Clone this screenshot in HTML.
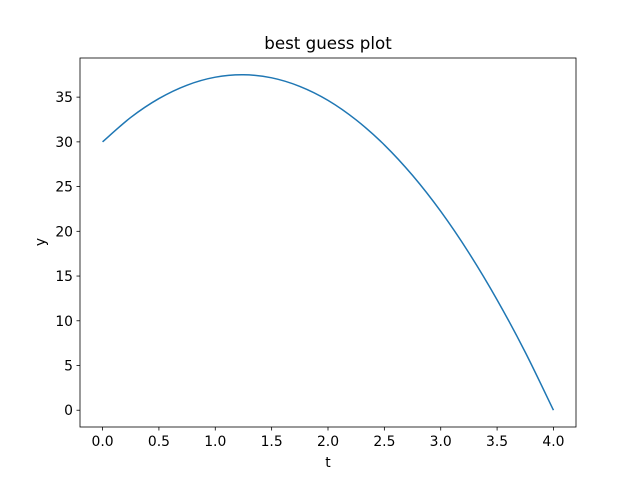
<!DOCTYPE html>
<html><head><meta charset="utf-8"><style>
body{margin:0;background:#fff}
svg text{font-family:"DejaVu Sans","Liberation Sans",sans-serif;fill:#000}
</style></head><body>
<svg id="chart" width="640" height="480">
<rect width="640" height="480" fill="#fff"/>
<text x="328" y="49" font-size="16.7" text-anchor="middle">best guess plot</text>
<g id="xt"></g>
<g id="yt"></g>
<path id="line" fill="none" stroke="#1f77b4" stroke-width="1.5"/>
<rect x="80" y="58" width="496" height="369" fill="none" stroke="#000" stroke-width="0.8"/>
<text x="328" y="467" font-size="13.9" text-anchor="middle">t</text>
<text x="0" y="0" font-size="13.9" text-anchor="middle" transform="translate(45,242) rotate(-90)">y</text>
</svg>
<script>
const tVals=[0,0.25,0.5,0.75,1,1.25,1.5,1.75,2,2.25,2.5,2.75,3,3.25,3.5,3.75,4];
const yVals=[30,32.73,34.84,36.34,37.23,37.5,37.16,36.2,34.64,32.45,29.66,26.25,22.23,17.59,12.34,6.48,0];
const xTicks=[0,0.5,1,1.5,2,2.5,3,3.5,4];
const xTickLabels=["0.0","0.5","1.0","1.5","2.0","2.5","3.0","3.5","4.0"];
const yTicks=[0,5,10,15,20,25,30,35];
const ns="http://www.w3.org/2000/svg";
const L=80,R=576,T=58,B=427;
const xmin=-0.2,xmax=4.2,ymin=-1.875,ymax=39.375;
const sx=v=>L+(v-xmin)/(xmax-xmin)*(R-L);
const sy=v=>B-(v-ymin)/(ymax-ymin)*(B-T);
const xt=document.getElementById('xt'),yt=document.getElementById('yt');
xTicks.forEach((v,i)=>{
 const l=document.createElementNS(ns,'line');
 l.setAttribute('x1',sx(v));l.setAttribute('x2',sx(v));l.setAttribute('y1',B);l.setAttribute('y2',B+3.5);
 l.setAttribute('stroke','#000');l.setAttribute('stroke-width','0.8');
 
 
 xt.appendChild(l);
 const t=document.createElementNS(ns,'text');
 t.setAttribute('x',sx(v));t.setAttribute('y',B+19);t.setAttribute('font-size','13.9');t.setAttribute('text-anchor','middle');
 t.textContent=xTickLabels[i];
 
 
 xt.appendChild(t);
});
yTicks.forEach(v=>{
 const l=document.createElementNS(ns,'line');
 l.setAttribute('x1',L-3.5);l.setAttribute('x2',L);l.setAttribute('y1',sy(v));l.setAttribute('y2',sy(v));
 l.setAttribute('stroke','#000');l.setAttribute('stroke-width','0.8');
 
 
 yt.appendChild(l);
 const t=document.createElementNS(ns,'text');
 t.setAttribute('x',L-7);t.setAttribute('y',sy(v)+5);t.setAttribute('font-size','13.9');t.setAttribute('text-anchor','end');
 t.textContent=String(v);
 
 
 yt.appendChild(t);
});
const P=tVals.map((t,i)=>[sx(t),sy(yVals[i])]);
let d='M'+P[0][0]+','+P[0][1];
for(let i=0;i<P.length-1;i++){
 const p0=P[Math.max(i-1,0)],p1=P[i],p2=P[i+1],p3=P[Math.min(i+2,P.length-1)];
 const c1=[p1[0]+(p2[0]-p0[0])/6,p1[1]+(p2[1]-p0[1])/6];
 const c2=[p2[0]-(p3[0]-p1[0])/6,p2[1]-(p3[1]-p1[1])/6];
 d+=' C'+c1[0]+','+c1[1]+' '+c2[0]+','+c2[1]+' '+p2[0]+','+p2[1];
}
document.getElementById('line').setAttribute('d',d);
</script>
</body></html>
